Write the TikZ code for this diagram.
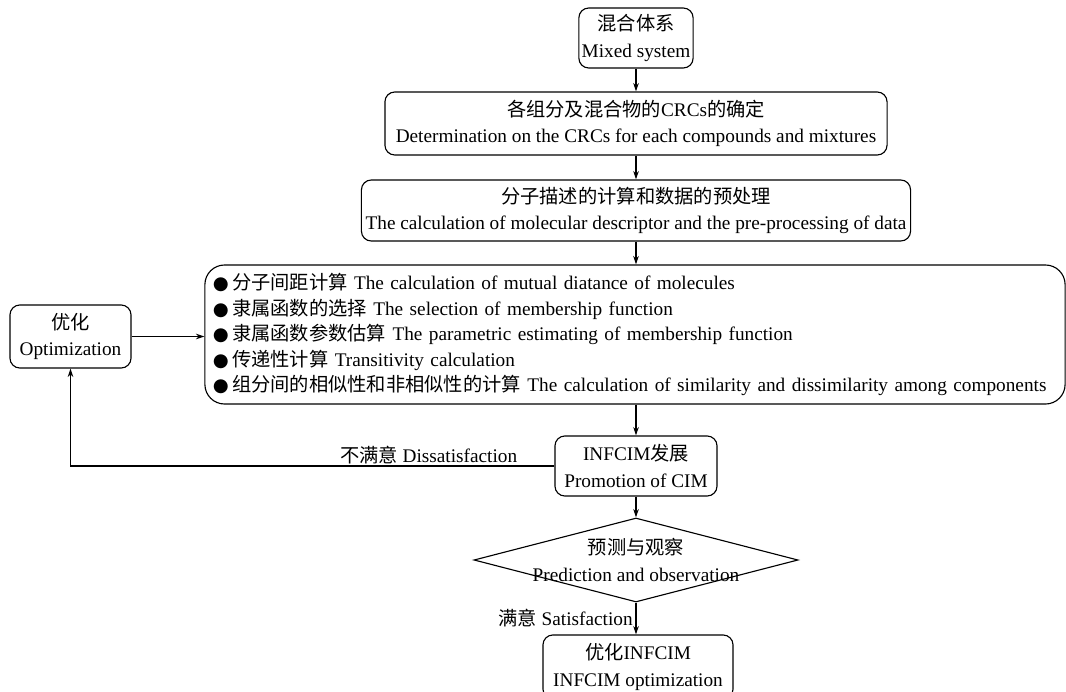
\documentclass[tikz,border=0pt]{standalone}
\usepackage{fontspec}
\setmainfont{Liberation Serif}
\newfontfamily\cjk{Noto Sans CJK SC}
\newfontfamily\symfont{DejaVu Sans}
\usetikzlibrary{arrows.meta, positioning, shapes.geometric}
\newcommand{\zh}[1]{{\cjk #1}}
\newcommand{\dotitem}{{\symfont\fontsize{13}{18}\selectfont ●}\,}

\tikzset{
  txt/.style={font=\fontsize{13.7}{19}\selectfont, inner sep=2pt},
  stepbox/.style={txt, draw, rounded corners=7pt, align=center, line width=0.8pt},
  decision/.style={draw, diamond, inner sep=0pt, line width=0.8pt},
  flow/.style={->, line width=0.8pt}
}

\begin{document}
\begin{tikzpicture}[x=0.025cm, y=-0.025cm, >={Stealth[length=6pt,width=4pt]}]
  \useasboundingbox (0,0) rectangle (1066,691);
  % main column
  \node[stepbox, minimum width=2.75cm, minimum height=1.5cm] (sys) at (636,38)
    {\zh{混合体系}\\Mixed system};
  \node[stepbox, minimum width=12.55cm, minimum height=1.575cm] (crc) at (636,123.5)
    {\zh{各组分及混合物的}CRCs\zh{的确定}\\Determination on the CRCs for each compounds and mixtures};
  \node[stepbox, minimum width=13.725cm, minimum height=1.525cm] (desc) at (636,210.5)
    {\zh{分子描述的计算和数据的预处理}\\The calculation of molecular descriptor and the pre-processing of data};
  \node[stepbox, rounded corners=14pt, minimum width=21.5cm, minimum height=3.475cm,
        align=left, text width=21.1cm, font=\fontsize{13.7}{18.1}\selectfont] (calc) at (635,334.5)
    {\dotitem\zh{分子间距计算} The calculation of mutual diatance of molecules\\
     \dotitem\zh{隶属函数的选择} The selection of membership function\\
     \dotitem\zh{隶属函数参数估算} The parametric estimating of membership function\\
     \dotitem\zh{传递性计算} Transitivity calculation\\
     \dotitem\zh{组分间的相似性和非相似性的计算} The calculation of similarity and dissimilarity among components};
  \node[stepbox, minimum width=4.05cm, minimum height=1.5cm] (promo) at (636,466)
    {INFCIM\zh{发展}\\Promotion of CIM};
  \node[decision, minimum width=8.1cm, minimum height=2.1cm] (pred) at (636,560) {};
  \node[txt, align=center] (predtxt) at (pred) {\zh{预测与观察}\\Prediction and observation};
  \node[stepbox, minimum width=4.75cm, minimum height=1.6cm] (final) at (638,667)
    {\zh{优化}INFCIM\\INFCIM optimization};
  % feedback loop
  \node[stepbox, minimum width=3.025cm, minimum height=1.575cm] (opt) at (70.5,336.5)
    {\zh{优化}\\Optimization};

  \draw[flow] (sys) -- (crc);
  \draw[flow] (crc) -- (desc);
  \draw[flow] (desc) -- (desc.south |- calc.north);
  \draw[flow] (calc.south -| promo) -- (promo);
  \draw[flow] (promo) -- (pred);
  \draw[flow] (pred.south) -- node[txt, left] {\zh{满意} Satisfaction} (final.north -| pred.south);
  \draw[flow] (promo.west) -| node[txt, above, pos=0.13, yshift=-1pt] {\zh{不满意} Dissatisfaction} (opt.south);
  \draw[flow] (opt.east) -- (opt.east -| calc.west);
\end{tikzpicture}
\end{document}
